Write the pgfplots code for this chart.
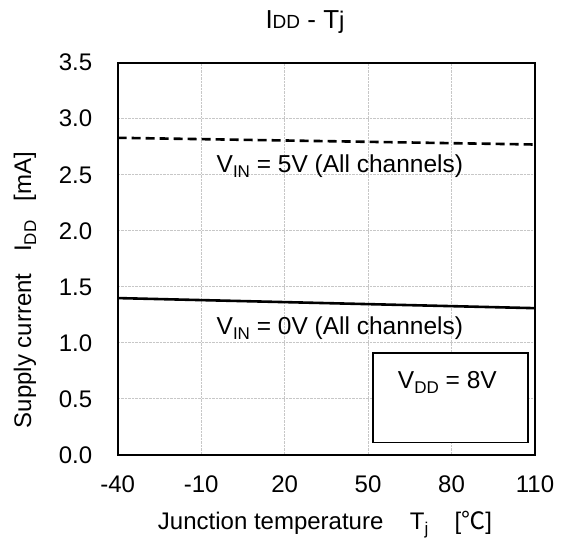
\documentclass[border=0pt]{standalone}
\usepackage{pgfplots}
\pgfplotsset{compat=1.18}
\usepackage{fontspec}
\setmainfont{Liberation Sans}
\newfontfamily\cjk{Noto Sans CJK JP}
\begin{document}
\begin{tikzpicture}[x=1pt,y=1pt]
\useasboundingbox (0,0) rectangle (561,545);
\begin{axis}[
  at={(117.7pt,90pt)}, anchor=south west,
  scale only axis, width=417.3pt, height=392.3pt,
  xmin=-40, xmax=110, ymin=0, ymax=3.5,
  xtick={-40,-10,20,50,80,110},
  ytick={0,0.5,...,3.5},
  yticklabel style={/pgf/number format/fixed, /pgf/number format/fixed zerofill, /pgf/number format/precision=1},
  /pgf/number format/assume math mode=true,
  ticklabel style={font=\fontsize{24}{28}\selectfont},
  major tick length=0pt,
  xticklabel style={yshift=-17pt},
  yticklabel style={xshift=-22pt},
  grid=major,
  major grid style={draw=black!22, densely dotted, line width=1pt},
  axis line style={line width=1.8pt, black},
  clip=false,
]
\addplot[black, line width=2.6pt, dash pattern=on 9pt off 5pt] coordinates {(-40,2.83) (110,2.77)};
\addplot[black, line width=2.6pt] coordinates {(-40,1.40) (110,1.31)};
\draw[black, line width=1.6pt, fill=white] (axis cs:51.7,0.11) rectangle (axis cs:107.5,0.91);
\node[font=\fontsize{24.5}{28}\selectfont, anchor=center] at (axis cs:78.5,0.65) {V\raisebox{-0.4ex}{\fontsize{17}{20}\selectfont DD} = 8V};
\node[font=\fontsize{24.5}{28}\selectfont, anchor=west, inner sep=0pt] at (axis cs:-4.5,2.58) {V\raisebox{-0.4ex}{\fontsize{17}{20}\selectfont IN} = 5V (All channels)};
\node[font=\fontsize{24.5}{28}\selectfont, anchor=west, inner sep=0pt] at (axis cs:-4.5,1.13) {V\raisebox{-0.4ex}{\fontsize{17}{20}\selectfont IN} = 0V (All channels)};
\end{axis}
\node[font=\fontsize{26}{30}\selectfont] at (305,523) {I{\fontsize{19}{22}\selectfont DD} - T{\fontsize{24}{28}\selectfont j}};
\node[font=\fontsize{24}{28}\selectfont, rotate=90] at (25,255) {Supply current\hspace{0.9em}I\raisebox{-0.4ex}{\fontsize{17}{20}\selectfont DD}\hspace{0.8em}[mA]};
\node[font=\fontsize{24}{28}\selectfont] at (325,20) {Junction temperature\hspace{1.1em}T\raisebox{-0.4ex}{\fontsize{17}{20}\selectfont j}\hspace{1.1em}[{\cjk ℃}]};
\end{tikzpicture}
\end{document}
